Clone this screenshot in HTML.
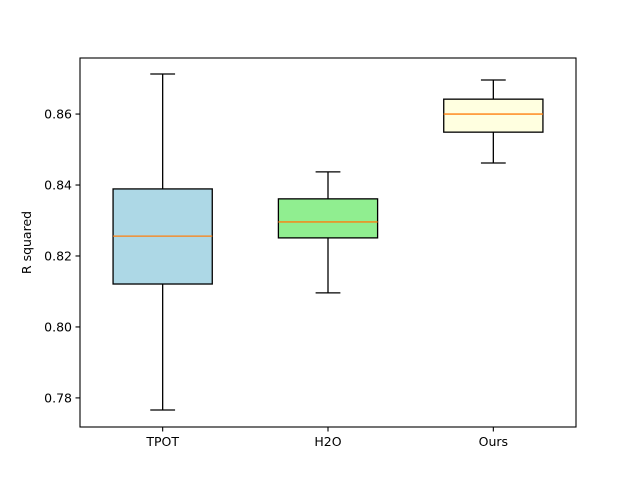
<!DOCTYPE html>
<html><head><meta charset="utf-8"><style>
body{margin:0;background:#fff}
svg text{font-family:"DejaVu Sans","Liberation Sans",sans-serif;font-size:12.5px;fill:#000}
</style></head><body>
<svg id="chart" width="640" height="480"></svg>
<script>
const categories=["TPOT","H2O","Ours"];
const whiskerLow=[0.7766,0.8096,0.8462];
const q1=[0.8121,0.8251,0.8549];
const medians=[0.8256,0.8296,0.8600];
const q3=[0.8389,0.8361,0.8642];
const whiskerHigh=[0.8713,0.8437,0.8696];
const colors=["lightblue","lightgreen","lightyellow"];
const yTicks=[0.78,0.80,0.82,0.84,0.86];

const L=80,R=576,T=58,B=427,ymin=0.7718,ymax=0.8758;
const sx=v=>L+(v-0.5)/3*(R-L);
const sy=v=>B-(v-ymin)/(ymax-ymin)*(B-T);
const svg=document.getElementById('chart');
const NS="http://www.w3.org/2000/svg";
function mk(tag,attrs,name){const e=document.createElementNS(NS,tag);for(const k in attrs)e.setAttribute(k,attrs[k]);


svg.appendChild(e);return e;}
categories.forEach((c,i)=>{
 const x=sx(i+1),hw=(sx(1.3)-sx(1)),cw=(sx(1.075)-sx(1));
 const s={stroke:'#000','stroke-width':1.3};
 mk('line',Object.assign({x1:x,x2:x,y1:sy(whiskerLow[i]),y2:sy(q1[i])},s),'whisker-low-'+c);
 mk('line',Object.assign({x1:x,x2:x,y1:sy(q3[i]),y2:sy(whiskerHigh[i])},s),'whisker-high-'+c);
 mk('line',Object.assign({x1:x-cw,x2:x+cw,y1:sy(whiskerLow[i]),y2:sy(whiskerLow[i])},s),'cap-low-'+c);
 mk('line',Object.assign({x1:x-cw,x2:x+cw,y1:sy(whiskerHigh[i]),y2:sy(whiskerHigh[i])},s),'cap-high-'+c);
 mk('rect',Object.assign({x:x-hw,y:sy(q3[i]),width:2*hw,height:sy(q1[i])-sy(q3[i]),fill:colors[i]},s),'box-'+c);
 mk('line',{x1:x-hw,x2:x+hw,y1:sy(medians[i]),y2:sy(medians[i]),stroke:'#ff7f0e','stroke-width':1.3},'median-'+c);
 mk('line',{x1:x,x2:x,y1:B,y2:B+4.5,stroke:'#000','stroke-width':1.1},'x-tick-'+c);
 const t=mk('text',{x:x,y:B+19,'text-anchor':'middle'},'x-tick-label-'+c);t.textContent=c;
});
yTicks.forEach(v=>{
 const y=sy(v);
 mk('line',{x1:L-4.5,x2:L,y1:y,y2:y,stroke:'#000','stroke-width':1.1},'y-tick');
 const t=mk('text',{x:L-8,y:y+4.5,'text-anchor':'end'},'y-tick-label');t.textContent=v.toFixed(2);
});
mk('rect',{x:L,y:T,width:R-L,height:B-T,fill:'none',stroke:'#000','stroke-width':1.1},'plot-frame');
const yl=mk('text',{x:0,y:0,transform:`translate(31,${(T+B)/2}) rotate(-90)`,'text-anchor':'middle'},'y-axis-title');yl.textContent="R squared";
</script>
</body></html>
